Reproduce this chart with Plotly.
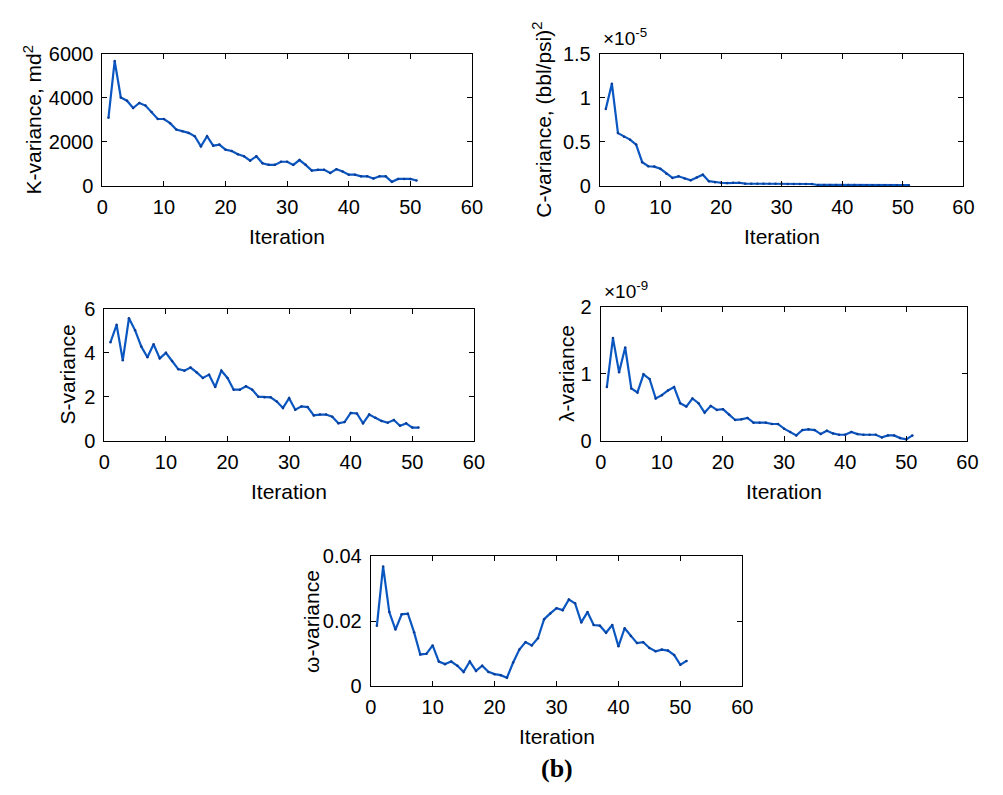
import plotly.graph_objects as go

# Iteration index shared by every panel
iterations = list(range(1, 52))

# Permeability variance, md^2
k_variance = [3100, 5670, 4020, 3870, 3540, 3770, 3650, 3360, 3040, 3040,
              2850, 2560, 2480, 2410, 2260, 1800, 2260, 1830, 1880, 1650,
              1590, 1440, 1350, 1150, 1350, 1030, 960, 960, 1100, 1100,
              960, 1180, 960, 700, 735, 735, 590, 765, 660, 515,
              515, 440, 440, 340, 440, 440, 190, 320, 320, 320, 250]

# Wellbore storage variance, (bbl/psi)^2
c_variance = [0.875e-5, 1.16e-5, 0.60e-5, 0.56e-5, 0.526e-5, 0.47e-5, 0.27e-5, 0.224e-5, 0.22e-5, 0.195e-5,
              0.14e-5, 0.092e-5, 0.11e-5, 0.085e-5, 0.066e-5, 0.096e-5, 0.129e-5, 0.055e-5, 0.044e-5, 0.037e-5,
              0.033e-5, 0.037e-5, 0.037e-5, 0.027e-5, 0.027e-5, 0.026e-5, 0.026e-5, 0.025e-5, 0.025e-5, 0.025e-5,
              0.024e-5, 0.024e-5, 0.024e-5, 0.023e-5, 0.023e-5, 0.012e-5, 0.012e-5, 0.012e-5, 0.011e-5, 0.011e-5,
              0.011e-5, 0.011e-5, 0.010e-5, 0.010e-5, 0.010e-5, 0.010e-5, 0.010e-5, 0.009e-5, 0.009e-5, 0.009e-5, 0.009e-5]

# Skin variance
s_variance = [4.47, 5.26, 3.65, 5.56, 5.01, 4.28, 3.79, 4.38, 3.74, 3.99,
              3.62, 3.25, 3.18, 3.32, 3.10, 2.85, 3.00, 2.44, 3.18, 2.85,
              2.32, 2.32, 2.47, 2.32, 2.00, 1.97, 1.97, 1.78, 1.49, 1.93,
              1.41, 1.56, 1.53, 1.15, 1.19, 1.19, 1.09, 0.79, 0.85, 1.26,
              1.24, 0.79, 1.19, 1.04, 0.90, 0.82, 0.94, 0.68, 0.79, 0.60, 0.60]

# Interporosity flow coefficient variance
lambda_variance = [0.80e-9, 1.53e-9, 1.02e-9, 1.39e-9, 0.78e-9, 0.72e-9, 0.99e-9, 0.92e-9, 0.63e-9, 0.68e-9,
                   0.75e-9, 0.80e-9, 0.56e-9, 0.51e-9, 0.63e-9, 0.56e-9, 0.42e-9, 0.52e-9, 0.46e-9, 0.47e-9,
                   0.39e-9, 0.31e-9, 0.32e-9, 0.34e-9, 0.27e-9, 0.27e-9, 0.27e-9, 0.25e-9, 0.25e-9, 0.18e-9,
                   0.13e-9, 0.08e-9, 0.16e-9, 0.17e-9, 0.16e-9, 0.10e-9, 0.15e-9, 0.11e-9, 0.09e-9, 0.09e-9,
                   0.13e-9, 0.10e-9, 0.09e-9, 0.09e-9, 0.09e-9, 0.05e-9, 0.08e-9, 0.08e-9, 0.04e-9, 0.02e-9, 0.08e-9]

# Storativity ratio variance
omega_variance = [0.0186, 0.0369, 0.0228, 0.0174, 0.0221, 0.0223, 0.0166, 0.0097, 0.0099, 0.0125,
                  0.0075, 0.0067, 0.0075, 0.0062, 0.0043, 0.0075, 0.0046, 0.0062, 0.0043, 0.0036,
                  0.0033, 0.0025, 0.0072, 0.0112, 0.0135, 0.0125, 0.0147, 0.0206, 0.0224, 0.0240,
                  0.0234, 0.0267, 0.0255, 0.0196, 0.0228, 0.0188, 0.0186, 0.0164, 0.0188, 0.0122,
                  0.0178, 0.0154, 0.0132, 0.0135, 0.0117, 0.0107, 0.0112, 0.0109, 0.0095, 0.0065, 0.0077]

x_ticks = [0, 10, 20, 30, 40, 50, 60]

W, H = 1003, 795
FONT = "Liberation Sans, Arial, sans-serif"
LINE_COLOR = "#0b57c2"

# panel: (series, pixel box [x0, x1, y0, y1], y range, y tick values, y tick text, y title, title x, exponent)
panels = [
    (k_variance, (98, 474, 44, 180), [0, 6000], [0, 2000, 4000, 6000], ["0", "2000", "4000", "6000"],
     "K-variance, md<sup>2</sup>", 27, None),
    (c_variance, (604, 974, 44, 180), [0, 1.5e-5], [0, 0.5e-5, 1e-5, 1.5e-5], ["0", "0.5", "1", "1.5"],
     "C-variance, (bbl/psi)<sup>2</sup>", 545, "-5"),
    (s_variance, (100, 476, 306, 442), [0, 6], [0, 2, 4, 6], ["0", "2", "4", "6"],
     "S-variance", 63, None),
    (lambda_variance, (605, 978, 304, 442), [0, 2e-9], [0, 1e-9, 2e-9], ["0", "1", "2"],
     "λ-variance", 570, "-9"),
    (omega_variance, (371, 749, 561, 694), [0, 0.04], [0, 0.02, 0.04], ["0", "0.02", "0.04"],
     "ω-variance", 310, None),
]

fig = go.Figure()
layout = dict(
    width=W, height=H,
    margin=dict(l=0, r=0, t=0, b=0),
    paper_bgcolor="white", plot_bgcolor="white",
    showlegend=False,
    font=dict(family=FONT, size=20, color="black"),
)
annotations = []

for i, (series, box, yr, yt, ytt, ytitle, tx, expo) in enumerate(panels, start=1):
    x0, x1, y0, y1 = box
    xa = "xaxis" if i == 1 else f"xaxis{i}"
    ya = "yaxis" if i == 1 else f"yaxis{i}"
    xr = "x" if i == 1 else f"x{i}"
    yr_ref = "y" if i == 1 else f"y{i}"

    fig.add_trace(go.Scatter(
        x=iterations, y=series, mode="lines+markers",
        line=dict(color=LINE_COLOR, width=2.2),
        marker=dict(size=2.5, color="#0a3c96"),
        xaxis=xr, yaxis=yr_ref, hoverinfo="skip",
    ))

    common = dict(
        showline=True, linecolor="black", linewidth=1, mirror="allticks",
        ticks="inside", ticklen=5, tickcolor="black", tickwidth=1,
        showgrid=False, zeroline=False,
        tickfont=dict(family=FONT, size=20, color="black"),
    )
    layout[xa] = dict(
        domain=[x0 / W, x1 / W], range=[0, 60], tickvals=x_ticks,
        ticktext=[str(v) for v in x_ticks], anchor=yr_ref,
        ticklabelstandoff=3, **common,
    )
    layout[ya] = dict(
        domain=[1 - y1 / H, 1 - y0 / H], range=yr, tickvals=yt, ticktext=ytt,
        anchor=xr, ticklabelstandoff=4, **common,
    )

    # x-axis title
    annotations.append(dict(
        text="Iteration", x=(x0 + x1) / 2 / W, y=1 - (y1 + 52) / H,
        xref="paper", yref="paper", xanchor="center", yanchor="middle",
        showarrow=False, font=dict(family=FONT, size=21, color="black"),
    ))
    # y-axis title
    annotations.append(dict(
        text=ytitle, x=tx / W, y=1 - (y0 + y1) / 2 / H, textangle=-90,
        xref="paper", yref="paper", xanchor="center", yanchor="middle",
        showarrow=False, font=dict(family=FONT, size=21, color="black"),
    ))
    # axis scale multiplier
    if expo is not None:
        annotations.append(dict(
            text=f"×10<sup>{expo}</sup>", x=(x0 + 1) / W, y=1 - (y0 - 3) / H,
            xref="paper", yref="paper", xanchor="left", yanchor="bottom",
            showarrow=False, font=dict(family=FONT, size=19, color="black"),
        ))

annotations.append(dict(
    text="<b>(b)</b>", x=560 / W, y=1 - 779 / H,
    xref="paper", yref="paper", xanchor="center", yanchor="middle",
    showarrow=False, font=dict(family="Liberation Serif, Times New Roman, serif", size=26, color="black"),
))

layout["annotations"] = annotations
fig.update_layout(**layout)
fig.write_html("out.html")
